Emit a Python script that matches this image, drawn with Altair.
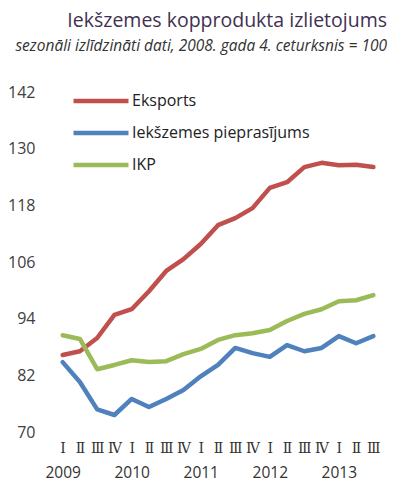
import altair as alt
import pandas as pd

periods = ["Ⅰ|2009", "Ⅱ|2009", "Ⅲ|2009", "Ⅳ|2009",
           "Ⅰ|2010", "Ⅱ|2010", "Ⅲ|2010", "Ⅳ|2010",
           "Ⅰ|2011", "Ⅱ|2011", "Ⅲ|2011", "Ⅳ|2011",
           "Ⅰ|2012", "Ⅱ|2012", "Ⅲ|2012", "Ⅳ|2012",
           "Ⅰ|2013", "Ⅱ|2013", "Ⅲ|2013"]

eksports = [86.3, 87.1, 89.9, 94.8, 96.0, 99.8, 104.1, 106.6, 109.8, 113.8,
            115.3, 117.4, 121.7, 122.9, 126.1, 127.0, 126.5, 126.6, 126.1]
iekszemes = [84.8, 80.6, 74.8, 73.6, 77.0, 75.3, 77.0, 78.9, 81.8, 84.2,
             87.8, 86.7, 85.9, 88.4, 87.1, 87.8, 90.3, 88.8, 90.3]
ikp = [90.5, 89.7, 83.3, 84.2, 85.2, 84.8, 85.0, 86.5, 87.6, 89.5,
       90.5, 90.9, 91.6, 93.5, 95.0, 96.0, 97.7, 97.9, 99.0]

series_names = ["Eksports", "Iekšzemes pieprasījums", "IKP"]
series_colors = ["#C0504D", "#4F81BD", "#9BBB59"]
y_ticks = [70, 82, 94, 106, 118, 130, 142]

rows = []
for name, vals in zip(series_names, [eksports, iekszemes, ikp]):
    for p, v in zip(periods, vals):
        rows.append({"period": p, "series": name, "value": v})
df = pd.DataFrame(rows)

font = "Open Sans"

quarter_expr = "split(datum.label, '|')[0]"
year_expr = "split(datum.label, '|')[0] == 'Ⅰ' ? split(datum.label, '|')[1] : ''"

y_enc = alt.Y("value:Q",
              scale=alt.Scale(domain=[70, 142], nice=False, zero=False),
              axis=alt.Axis(title=None, domain=False, ticks=False, grid=False,
                            values=y_ticks, labelFont=font, labelFontSize=16,
                            labelColor="#404040", labelPadding=19))

lines = alt.Chart(df).mark_line(strokeWidth=4.5, strokeCap="round", strokeJoin="round").encode(
    x=alt.X("period:N", sort=periods,
            scale=alt.Scale(type="point", padding=0.5),
            axis=alt.Axis(title=None, domain=False, ticks=False, labelAngle=0,
                          orient="bottom",
                          labelExpr=quarter_expr, labelFont="DejaVu Serif",
                          labelFontSize=14, labelColor="#333",
                          labelPadding=9, labelBaseline="top")),
    y=y_enc,
    color=alt.Color("series:N",
                    scale=alt.Scale(domain=series_names, range=series_colors),
                    legend=alt.Legend(orient="none", legendX=17, legendY=1,
                                      title=None, symbolType="stroke",
                                      symbolSize=3025, symbolStrokeWidth=4.5,
                                      clipHeight=16,
                                      labelFont=font, labelFontSize=16,
                                      labelColor="#222", labelOffset=1,
                                      labelLimit=400, rowPadding=16)),
)

years = alt.Chart(df).mark_point(opacity=0).encode(
    x=alt.X("period:N", sort=periods,
            scale=alt.Scale(type="point", padding=0.5),
            axis=alt.Axis(title=None, domain=False, ticks=False, labelAngle=0,
                          orient="bottom",
                          labelExpr=year_expr, labelFont=font,
                          labelFontSize=15.5, labelColor="#333",
                          labelPadding=33, labelBaseline="top")),
    y=alt.Y("value:Q"),
)

chart = alt.layer(lines, years).resolve_scale(x="independent").properties(
    width=328,
    height=340,
    title=alt.TitleParams(
        text="Iekšzemes kopprodukta izlietojums",
        subtitle="sezonāli izlīdzināti dati, 2008. gada 4. ceturksnis = 100",
        anchor="end", frame="group", dx=5,
        font=font, fontSize=19.5, fontWeight="normal", color="#3F3151",
        subtitleFont=font, subtitleFontSize=15.5, subtitleFontStyle="italic",
        subtitleColor="#333", subtitlePadding=7, offset=29,
    ),
    autosize=alt.AutoSizeParams(type="none"),
    padding={"left": 46, "top": 84, "right": 10, "bottom": 60},
).configure_view(stroke=None)

chart.save("out.html", embed_options={"renderer": "svg", "actions": False})
